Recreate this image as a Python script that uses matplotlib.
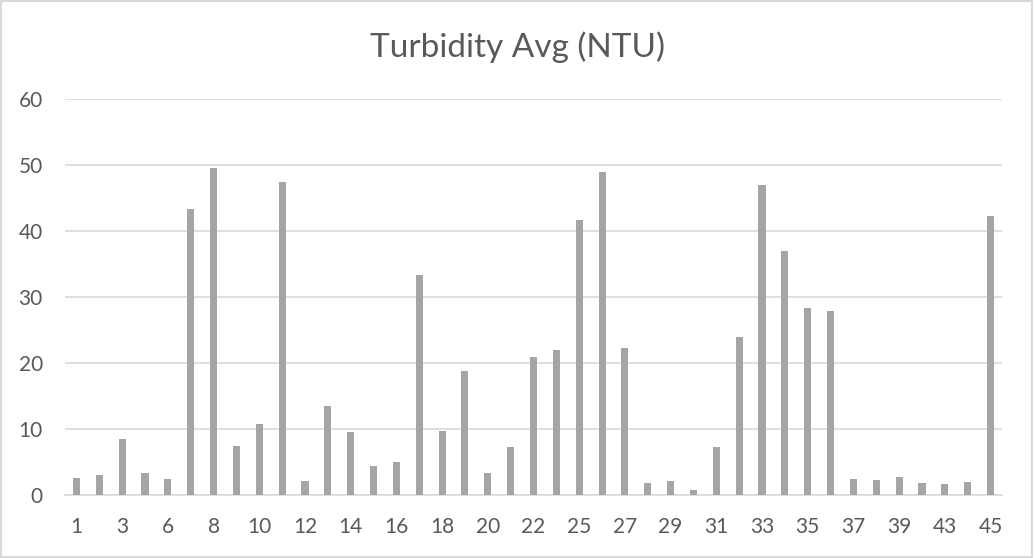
import matplotlib.pyplot as plt
from matplotlib.patches import Rectangle

plt.rcParams["font.family"] = ["Lato", "DejaVu Sans"]

# x-axis category labels (only every other one is printed on the chart)
labels = ["1", "2", "3", "4", "6", "7", "8", "9", "10", "11", "12", "13", "14",
          "15", "16", "17", "18", "19", "20", "21", "22", "23", "25", "26",
          "27", "28", "29", "30", "31", "32", "33", "34", "35", "36", "37",
          "38", "39", "41", "43", "44", "45"]
turbidity = [2.6, 3.0, 8.5, 3.4, 2.5, 43.3, 49.5, 7.4, 10.7, 47.4, 2.1, 13.5,
             9.6, 4.4, 5.0, 33.3, 9.7, 18.8, 3.3, 7.2, 20.9, 21.9, 41.6, 48.9,
             22.3, 1.8, 2.1, 0.8, 7.2, 24.0, 47.0, 37.0, 28.4, 27.9, 2.5, 2.2,
             2.7, 1.8, 1.6, 2.0, 42.2]

txt = "#595959"
fig = plt.figure(figsize=(10.34, 5.58), dpi=100)
ax = fig.add_axes([65 / 1034, 1 - 495 / 558, 937 / 1034, 396 / 558])

x = range(len(turbidity))
ax.bar(x, turbidity, width=0.31, color="#A5A5A5", zorder=3)

ax.set_xlim(-0.5, len(turbidity) - 0.5)
ax.set_ylim(0, 60)
ax.set_yticks(range(0, 61, 10))
ax.set_xticks(list(x)[::2])
ax.set_xticklabels(labels[::2])
ax.tick_params(axis="both", length=0, labelsize=15, colors=txt)
ax.tick_params(axis="x", pad=16)
ax.tick_params(axis="y", pad=16)
ax.grid(axis="y", color="#D9D9D9", linewidth=1.2, zorder=0)
for s in ["top", "right", "left"]:
    ax.spines[s].set_visible(False)
ax.spines["bottom"].set_color("#D9D9D9")
ax.spines["bottom"].set_linewidth(1.2)

fig.text(0.5, 1 - 47 / 558, "Turbidity Avg (NTU)", ha="center", va="center",
         fontsize=24, color=txt)

# chart border
fig.patches.append(Rectangle((0.001, 0.002), 0.997, 0.996, transform=fig.transFigure,
                             fill=False, edgecolor="#D9D9D9", linewidth=1.5))

fig.savefig("out.png", dpi=100)
